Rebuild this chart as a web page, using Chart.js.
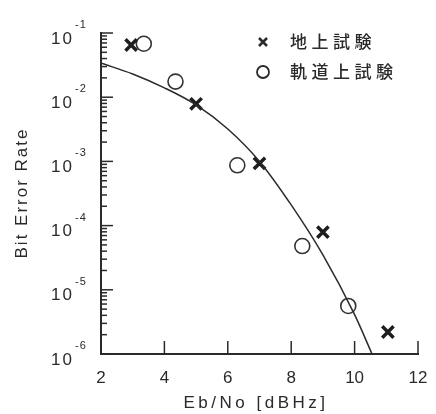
<!DOCTYPE html>
<html>
<head>
<meta charset="utf-8">
<script src="https://cdn.jsdelivr.net/npm/chart.js@4/dist/chart.umd.min.js"></script>
<style>
  body { margin: 0; background: #fff; }
  canvas { display: block; }
</style>
</head>
<body>
<canvas id="myChart" width="436" height="414"></canvas>
<script>
// values
var xTicks = [2, 4, 6, 8, 10, 12];
var yExponents = [-1, -2, -3, -4, -5, -6];

var groundEbNo = [2.95, 5.0, 7.0, 9.0, 11.05];
var groundBer = [6.5e-2, 7.9e-3, 9.3e-4, 7.9e-5, 2.2e-6];

var orbitEbNo = [3.35, 4.35, 6.3, 8.35, 9.8];
var orbitBer = [6.8e-2, 1.75e-2, 8.7e-4, 4.8e-5, 5.6e-6];

var curveEbNo = [2, 3, 4, 5, 6, 7, 8, 9, 10, 10.55];
var curveBer = [3.4e-2, 2.3e-2, 1.4e-2, 7.6e-3, 3.2e-3, 1.0e-3, 2.1e-4, 3.5e-5, 4.1e-6, 1e-6];

var legendLabels = ['地上試験', '軌道上試験'];
var xTitle = 'Eb/No [dBHz]';
var yTitle = 'Bit Error Rate';

function pairs(xs, ys) {
    var out = [];
    for (var i = 0; i < xs.length; i++) {
        out.push({ x: xs[i], y: ys[i] });
    }
    return out;
}

var ink = '#2a2a2a';
var latin = '"Liberation Sans", Arial, sans-serif';
var cjk = '"Noto Sans CJK JP", sans-serif';

var decor = {
    id: 'decor',
    afterDraw: function (chart) {
        var c = chart.ctx;
        var xs = chart.scales.x;
        var ys = chart.scales.y;
        var area = chart.chartArea;
        c.save();
        c.strokeStyle = ink;
        c.fillStyle = ink;

        // inward ticks on the y axis, majors at each decade, minors 2..9
        c.lineWidth = 1.5;
        yExponents.forEach(function (e) {
            var py = ys.getPixelForValue(Math.pow(10, e));
            c.beginPath();
            c.moveTo(area.left, py);
            c.lineTo(area.left + 12, py);
            c.stroke();
            if (e == -1) return;
            for (var k = 2; k <= 9; k++) {
                var pm = ys.getPixelForValue(k * Math.pow(10, e));
                c.beginPath();
                c.moveTo(area.left, pm);
                c.lineTo(area.left + 6, pm);
                c.stroke();
            }
        });

        // inward ticks on the x axis
        xTicks.forEach(function (t) {
            var px = xs.getPixelForValue(t);
            c.beginPath();
            c.moveTo(px, area.bottom);
            c.lineTo(px, area.bottom - 13);
            c.stroke();
        });

        // y tick labels 10^n
        c.textBaseline = 'middle';
        yExponents.forEach(function (e) {
            var py = ys.getPixelForValue(Math.pow(10, e));
            c.font = '17px ' + latin;
            c.textAlign = 'right';
            c.letterSpacing = '2px';
            c.fillText('10', 74, py + 6);
            c.font = '11px ' + latin;
            c.textAlign = 'left';
            c.letterSpacing = '1px';
            c.fillText(String(e), 75, py - 8);
        });

        // axis titles
        c.textAlign = 'center';
        c.font = '17px ' + latin;
        c.letterSpacing = '3.5px';
        c.fillText(xTitle, 256, 403);
        c.save();
        c.translate(22, 193);
        c.rotate(-Math.PI / 2);
        c.letterSpacing = '2px';
        c.fillText(yTitle, 0, 0);
        c.restore();

        // legend
        c.lineWidth = 2.5;
        c.beginPath();
        c.moveTo(259, 38); c.lineTo(267, 46);
        c.moveTo(267, 38); c.lineTo(259, 46);
        c.stroke();
        c.lineWidth = 1.8;
        c.beginPath();
        c.arc(263, 72, 6, 0, Math.PI * 2);
        c.stroke();
        c.textAlign = 'left';
        c.font = '500 17px ' + cjk;
        c.letterSpacing = '4.5px';
        c.fillText(legendLabels[0], 290, 42);
        c.fillText(legendLabels[1], 290, 72);

        c.restore();
    }
};

var ctx = document.getElementById('myChart').getContext('2d');
var chart = new Chart(ctx, {
    type: 'scatter',
    data: {
        datasets: [{
            label: 'theory',
            data: pairs(curveEbNo, curveBer),
            showLine: true,
            borderColor: ink,
            borderWidth: 1.5,
            pointRadius: 0,
            cubicInterpolationMode: 'monotone'
        },
        {
            label: legendLabels[0],
            data: pairs(groundEbNo, groundBer),
            pointStyle: 'crossRot',
            pointRadius: 8,
            borderWidth: 3.5,
            borderColor: '#1e1e1e'
        },
        {
            label: legendLabels[1],
            data: pairs(orbitEbNo, orbitBer),
            pointStyle: 'circle',
            pointRadius: 7.5,
            borderWidth: 1.6,
            borderColor: '#333',
            backgroundColor: 'rgba(0, 0, 0, 0)'
        }]
    },
    options: {
        responsive: false,
        animation: false,
        layout: { padding: { top: 33, right: 18, left: 0, bottom: 0 } },
        plugins: {
            legend: { display: false },
            tooltip: { enabled: false }
        },
        scales: {
            x: {
                type: 'linear',
                min: 2,
                max: 12,
                ticks: {
                    stepSize: 2,
                    padding: 14,
                    color: ink,
                    font: { size: 17, family: latin }
                },
                grid: { display: false, drawTicks: false },
                border: { display: true, width: 2, color: ink },
                afterFit: function (s) {
                    s.height = 60;
                    s.paddingLeft = 0;
                    s.paddingRight = 0;
                }
            },
            y: {
                type: 'logarithmic',
                min: 1e-6,
                max: 1e-1,
                ticks: { display: false },
                grid: { display: false, drawTicks: false },
                border: { display: true, width: 2, color: ink },
                afterFit: function (s) { s.width = 101; }
            }
        }
    },
    plugins: [decor]
});
</script>
</body>
</html>
